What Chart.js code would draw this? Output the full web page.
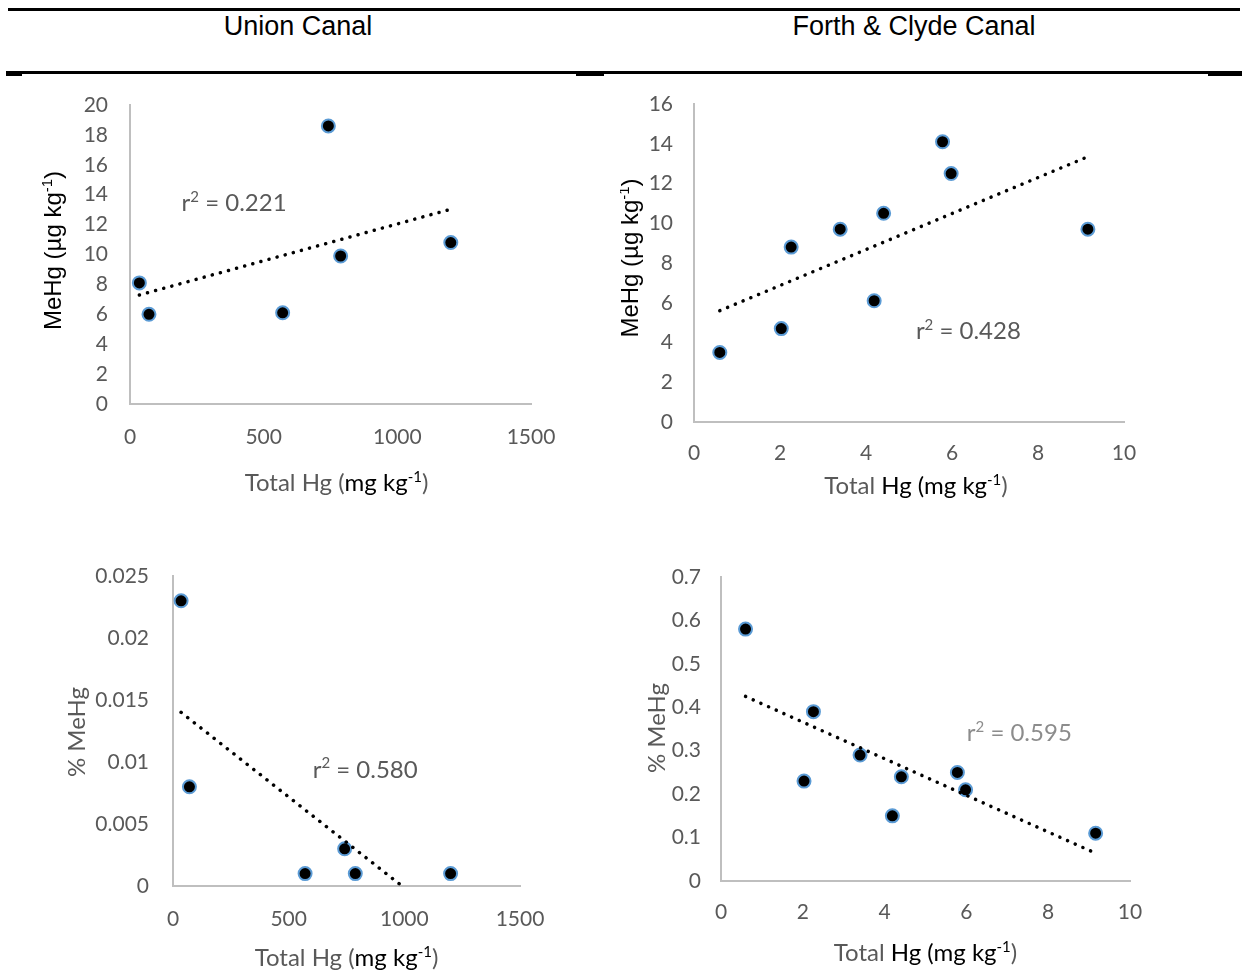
<!DOCTYPE html>
<html>
<head>
<meta charset="utf-8">
<script src="https://cdn.jsdelivr.net/npm/chart.js@4"></script>
<style>
  body { margin: 0; background: #fff; }
  #page { position: relative; width: 1244px; height: 974px; overflow: hidden; background: #fff; }
  .rule { position: absolute; background: #000; }
  .hd { position: absolute; top: 10px; height: 32px; line-height: 32px; text-align: center;
        font-family: "Liberation Sans", Arial, sans-serif; font-size: 27px; color: #000; }
  canvas { position: absolute; }
</style>
</head>
<body>
<div id="page">
  <div class="rule" style="left:8px; top:8px; width:1232px; height:3px"></div>
  <div class="hd" style="left:148px; width:300px">Union Canal</div>
  <div class="hd" style="left:764px; width:300px">Forth &amp; Clyde Canal</div>
  <div class="rule" style="left:8px; top:71px; width:1232px; height:3px"></div>
  <div class="rule" style="left:6px; top:71px; width:16px; height:5px"></div>
  <div class="rule" style="left:576px; top:71px; width:28px; height:5px"></div>
  <div class="rule" style="left:1208px; top:71px; width:34px; height:5px"></div>

  <canvas id="c1" width="620" height="430" style="left:0; top:80px"></canvas>
  <canvas id="c2" width="624" height="430" style="left:620px; top:80px"></canvas>
  <canvas id="c3" width="620" height="434" style="left:0; top:540px"></canvas>
  <canvas id="c4" width="624" height="434" style="left:620px; top:540px"></canvas>
</div>
<script>
// Union Canal samples
const unionTotalHg = [35, 71, 571, 742, 788, 1200];
const unionMeHg = [8.1, 6.0, 6.1, 18.6, 9.9, 10.8];
const unionPctMeHg = [0.023, 0.008, 0.001, 0.003, 0.001, 0.001];
const unionMeHgTrend = [[35, 7.29], [1200, 13.03]];
const unionPctTrend = [[35, 0.0140], [990, 0]];

// Forth & Clyde Canal samples
const fcTotalHg = [0.6, 2.03, 2.26, 3.40, 4.19, 4.41, 5.78, 5.98, 9.16];
const fcMeHg = [3.5, 4.7, 8.8, 9.7, 6.1, 10.5, 14.1, 12.5, 9.7];
const fcPctMeHg = [0.58, 0.23, 0.39, 0.29, 0.15, 0.24, 0.25, 0.21, 0.11];
const fcMeHgTrend = [[0.6, 5.6], [9.16, 13.35]];
const fcPctTrend = [[0.6, 0.425], [9.16, 0.064]];

// r² labels and the data position of their left edge
const r2Union = ['0.221', 193, 13.5];
const r2Fc = ['0.428', 5.16, 4.62];
const r2UnionPct = ['0.580', 604, 0.00944];
const r2FcPct = ['0.595', 6.01, 0.343];

const GREY = '#595959';
const LATO = 'Lato, "Open Sans", sans-serif';
const ARIAL = '"Liberation Sans", Arial, sans-serif';

function toPoints(xs, ys) {
    return xs.map((x, i) => ({ x: x, y: ys[i] }));
}

function cleanTick(v) {
    return String(+v.toFixed(4));
}

// draws a row of text pieces, some of them superscript
function drawRich(ctx, segs, x, y, align, rotate) {
    ctx.save();
    ctx.translate(x, y);
    if (rotate) ctx.rotate(-Math.PI / 2);
    ctx.textBaseline = 'alphabetic';
    ctx.textAlign = 'left';
    const fontOf = s => `${s.sup ? Math.round(s.size * 0.62) : s.size}px ${s.family}`;
    const widths = segs.map(s => { ctx.font = fontOf(s); return ctx.measureText(s.t).width; });
    const total = widths.reduce((a, b) => a + b, 0);
    let cx = align === 'left' ? 0 : -total / 2;
    const base = segs[0].size * 0.36;
    segs.forEach((s, i) => {
        ctx.font = fontOf(s);
        ctx.fillStyle = s.color;
        ctx.fillText(s.t, cx, s.sup ? base - s.size * 0.38 : base);
        cx += widths[i];
    });
    ctx.restore();
}

const textPlugin = {
    id: 'richText',
    afterDraw(chart, args, opts) {
        const ctx = chart.ctx;
        const area = chart.chartArea;
        const xs = chart.scales.x, ys = chart.scales.y;
        drawRich(ctx, opts.xTitle, (area.left + area.right) / 2 + opts.xShift, area.bottom + opts.xGap, 'center', false);
        drawRich(ctx, opts.yTitle, area.left - opts.yGap, (area.top + area.bottom) / 2 + opts.yShift, 'center', true);
        const r = opts.r2;
        drawRich(ctx, r.segs, xs.getPixelForValue(r.at[1]), ys.getPixelForValue(r.at[2]), 'left', false);
    }
};

function seg(t, color, family, size, sup) {
    return { t: t, color: color, family: family || LATO, size: size || 24, sup: !!sup };
}

const meHgTitle = [seg('MeHg (µg kg', '#000', ARIAL), seg('-1', '#000', ARIAL, 24, true), seg(')', '#000', ARIAL)];
const pctTitle = [seg('% MeHg', GREY)];
const totalTitleA = [seg('Total Hg (', GREY), seg('mg kg', '#000'), seg('-1', '#000', LATO, 24, true), seg(')', GREY)];
const totalTitleB = [seg('Total ', GREY), seg('Hg (mg kg', '#000'), seg('-1', '#000', LATO, 24, true), seg(')', GREY)];

function r2Label(r, color) {
    return { at: r, segs: [seg('r', color), seg('2', color, LATO, 24, true), seg(' = ' + r[0], color)] };
}

function makeChart(id, cfg) {
    const axisBase = {
        type: 'linear',
        grid: { display: false },
        border: { display: true, color: '#bfbfbf', width: 2 },
        ticks: { color: GREY, font: { family: LATO, size: 21 }, callback: cleanTick }
    };
    return new Chart(document.getElementById(id), {
        type: 'scatter',
        data: {
            datasets: [
                {
                    type: 'line',
                    data: cfg.trend.map(p => ({ x: p[0], y: p[1] })),
                    borderColor: '#000',
                    borderWidth: 3.5,
                    borderCapStyle: 'round',
                    borderDash: [0.1, 8.3],
                    pointRadius: 0,
                    fill: false
                },
                {
                    data: toPoints(cfg.xs, cfg.ys),
                    backgroundColor: '#000',
                    borderColor: '#5b9bd5',
                    borderWidth: 2,
                    pointRadius: 6.5
                }
            ]
        },
        options: {
            responsive: false,
            animation: false,
            layout: { padding: { top: cfg.padTop, right: cfg.padRight, left: 0, bottom: 0 } },
            plugins: {
                legend: { display: false },
                tooltip: { enabled: false },
                richText: cfg.text
            },
            scales: {
                x: {
                    ...axisBase,
                    min: 0, max: cfg.xMax,
                    ticks: { ...axisBase.ticks, stepSize: cfg.xStep, padding: cfg.xPad },
                    afterFit: s => { s.height = cfg.xHeight; s.paddingLeft = 0; s.paddingRight = 0; }
                },
                y: {
                    ...axisBase,
                    min: 0, max: cfg.yMax,
                    ticks: { ...axisBase.ticks, stepSize: cfg.yStep, padding: cfg.yPad },
                    afterFit: s => { s.width = cfg.yWidth; s.paddingTop = 0; s.paddingBottom = 0; }
                }
            }
        },
        plugins: [textPlugin]
    });
}

makeChart('c1', {
    xs: unionTotalHg, ys: unionMeHg, trend: unionMeHgTrend,
    xMax: 1500, xStep: 500, yMax: 20, yStep: 2,
    yWidth: 130, xHeight: 106, padTop: 25, padRight: 89, xPad: 13, yPad: 14,
    text: { xTitle: totalTitleA, xShift: 6, xGap: 78, yTitle: meHgTitle, yGap: 78, yShift: -4,
            r2: r2Label(r2Union, GREY) }
});

makeChart('c2', {
    xs: fcTotalHg, ys: fcMeHg, trend: fcMeHgTrend,
    xMax: 10, xStep: 2, yMax: 16, yStep: 2,
    yWidth: 74, xHeight: 88, padTop: 24, padRight: 120, xPad: 11, yPad: 13,
    text: { xTitle: totalTitleB, xShift: 7, xGap: 63, yTitle: meHgTitle, yGap: 65, yShift: -5,
            r2: r2Label(r2Fc, GREY) }
});

makeChart('c3', {
    xs: unionTotalHg, ys: unionPctMeHg, trend: unionPctTrend,
    xMax: 1500, xStep: 500, yMax: 0.025, yStep: 0.005,
    yWidth: 173, xHeight: 88, padTop: 36, padRight: 100, xPad: 13, yPad: 16,
    text: { xTitle: totalTitleA, xShift: 0, xGap: 71, yTitle: pctTitle, yGap: 97, yShift: 1,
            r2: r2Label(r2UnionPct, GREY) }
});

makeChart('c4', {
    xs: fcTotalHg, ys: fcPctMeHg, trend: fcPctTrend,
    xMax: 10, xStep: 2, yMax: 0.7, yStep: 0.1,
    yWidth: 101, xHeight: 93, padTop: 37, padRight: 114, xPad: 11, yPad: 12,
    text: { xTitle: totalTitleB, xShift: 0, xGap: 71, yTitle: pctTitle, yGap: 65, yShift: -1,
            r2: r2Label(r2FcPct, '#8c8c8c') }
});
</script>
</body>
</html>
